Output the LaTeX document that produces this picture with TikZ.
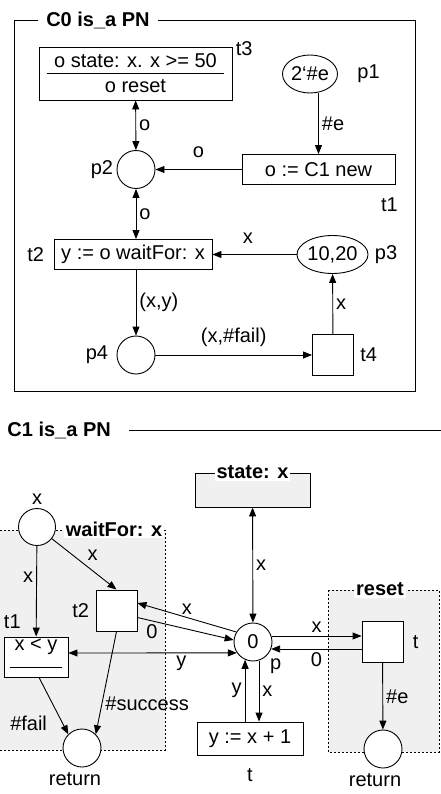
\documentclass[tikz,border=0pt]{standalone}
\usepackage{fontspec}
\setmainfont{Liberation Sans}
\usetikzlibrary{arrows.meta,positioning,shapes.geometric}
\definecolor{regiongray}{gray}{0.94}

\begin{document}
\begin{tikzpicture}[x=1pt, y=-1pt, >={Triangle[length=9pt,width=7pt]},
    line width=0.9pt,
    font=\fontsize{20}{25}\selectfont,
    place/.style={draw, circle, fill=white, minimum size=38pt, inner sep=0pt},
    token/.style={draw, ellipse, fill=white, inner sep=0pt, minimum height=38pt},
    trans/.style={draw, rectangle, fill=white, inner sep=0pt},
    frametitle/.style={fill=white, font=\fontsize{20}{25}\selectfont\bfseries, inner sep=2pt},
    region/.style={fill=regiongray, dash pattern=on 2pt off 2pt, line width=0.9pt},
    lbl/.style={inner sep=3pt}]

    \useasboundingbox (0,0) rectangle (441,794);

    % Net C0
    \node[frametitle, inner xsep=8pt] (c0title) at (98,20) {C0 is\_a PN};
    \draw (c0title.east) -| (415,391) -| (14,20) -- (c0title.west);

    \node[trans, minimum width=193pt, minimum height=53pt, align=center] (t3) at (135.5,73.5) {o state: x. x >= 50\\o reset};
    \draw ([xshift=8pt]t3.west) -- ([xshift=-8pt]t3.east);
    \node[token, minimum width=55pt, label={[lbl, xshift=16pt]right:p1}] (p1) at (310,74) {2‘\#e};
    \node[trans, minimum width=153pt, minimum height=30pt] (t1) at (318.5,169.5) {o := C1 new};
    \node[place, label={[lbl]left:p2}] (p2) at (136,169.5) {};
    \node[trans, minimum width=158pt, minimum height=30pt] (t2) at (133,254.5) {y := o waitFor: x};
    \node[token, minimum width=71pt, label={[lbl, xshift=3pt]right:p3}] (p3) at (332.5,254.5) {10,20};
    \node[place, label={[lbl, xshift=-5pt]left:p4}] (p4) at (136,355) {};
    \node[trans, minimum size=41pt] (t4) at (333,355) {};

    \node[lbl, anchor=west] (t3l) at ([yshift=-2pt]t3.north east) {t3};
    \node[lbl, anchor=north] (t1l) at ([xshift=-6pt,yshift=-9pt]t1.south east) {t1};
    \node[lbl, left=6pt of t2] (t2l) {t2};
    \node[lbl, right=3pt of t4] (t4l) {t4};

    \draw[<->] (t3) -- (p2) node[lbl, midway, right] {o};
    \draw[->] (t1 |- p1.south) -- (t1) node[lbl, midway, right] {\#e};
    \draw[->] (t1) -- (p2) node[lbl, midway, above=8pt] {o};
    \draw[<->] (p2) -- (p2 |- t2.north) node[lbl, midway, right] {o};
    \draw[->] (p3) -- (t2) node[lbl, pos=0.58, above=8pt] {x};
    \draw[->] (t2.south -| p4) -- (p4) node[lbl, midway, right] {(x,y)};
    \draw[->] (p4) -- (t4) node[lbl, midway, above=5pt] {(x,\#fail)};
    \draw[->] (t4) -- (p3) node[lbl, midway, right] {x};

    % Net C1
    \node[frametitle, anchor=west] (c1title) at (5,430) {C1 is\_a PN};
    \draw ([xshift=16pt]c1title.east) -- (441,430);

    % regions
    \fill[regiongray] (0,530) rectangle (165,750);
    \draw[region, fill=none] (0,530) -- (165,530) -- (165,750) -- (0,750);
    \node[frametitle] (waitt) at (114,529) {waitFor: x};
    \draw[region] (328,590) rectangle (439,752);
    \node[frametitle] (resett) at (380,589) {reset};
    \node[draw, fill=regiongray, minimum width=115pt, minimum height=34pt] (state) at (252.5,490) {};
    \node[frametitle] (statet) at (state.north) {state: x};

    \node[place, label={[lbl]-45:p}] (p) at (253,642) {0};
    \node[place, minimum size=37pt, label={[lbl]above:x}] (px) at (37,527) {};
    \node[trans, minimum width=64pt, minimum height=40pt, text height=10pt, text depth=24pt] (t1b) at (36,657) {x < y};
    \draw ([xshift=6pt,yshift=-10pt]t1b.west) -- ([xshift=-6pt,yshift=-10pt]t1b.east);
    \node[trans, minimum size=41pt] (t2b) at (116.5,610.5) {};
    \node[place, label={[lbl, xshift=-7pt, yshift=-2pt]below:return}] (ret1) at (82,748) {};
    \node[trans, minimum width=106pt, minimum height=33pt] (inc) at (250,738.5) {y := x + 1};
    \node[trans, minimum size=41pt] (tr) at (382.5,642) {};
    \node[place, label={[lbl, xshift=-8pt, yshift=-2pt]below:return}] (ret2) at (383,749) {};

    \node[lbl, anchor=south west] (t1bl) at ([xshift=-3pt,yshift=4pt]t1b.north west) {t1};
    \node[lbl, left=3pt of t2b] (t2bl) {t2};
    \node[lbl, below=10pt of inc] (incl) {t};
    \node[lbl, right=6pt of tr] (trl) {t};

    \draw[<->] (p) -- (state) node[lbl, midway, right] {x};
    \draw[->] (px) -- (t1b) node[lbl, pos=0.35, left] {x};
    \draw[->] (px) -- (t2b.north) node[lbl, midway, above right] {x};
    \draw[->] ([xshift=3pt]t1b.south) -- (ret1.north west) node[lbl, pos=0.8, left=12pt] {\#fail};
    \draw[->] (t2b.south) -- (ret1.north east) node[lbl, pos=0.7, right] {\#success};
    \draw[->] (p.149) -- ([yshift=7.5pt]t2b.east) node[lbl, midway, above] {x};
    \draw[->] ([yshift=-7pt]t2b.east) -- (p.174) node[lbl, pos=0.15, below] {0};
    \draw[<->] ([yshift=4pt]t1b.east) -- (p.214) node[lbl, pos=0.67, below] {y};
    \draw[->] (p.-72) -- (p.-72 |- inc.north) node[lbl, midway, right] {x};
    \draw[->] (p.-114 |- inc.north) -- (p.-114) node[lbl, midway, left] {y};
    \draw[->] (p.18) -- (p.18 -| tr.west) node[lbl, midway, above] {x};
    \draw[->] (p.-21 -| tr.west) -- (p.-21) node[lbl, midway, below] {0};
    \draw[->] (tr) -- (ret2) node[lbl, midway, right] {\#e};

\end{tikzpicture}
\end{document}
